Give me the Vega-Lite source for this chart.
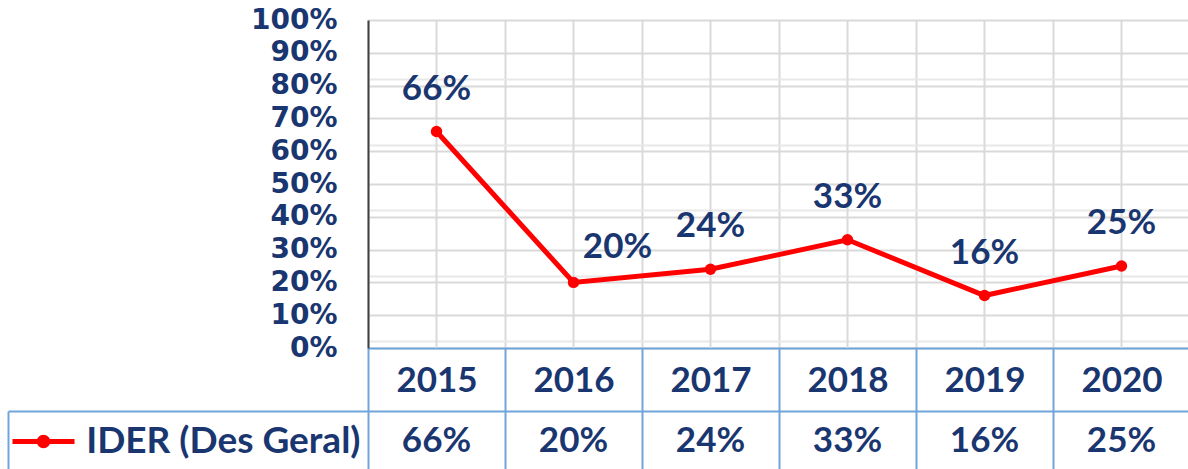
{
  "$schema": "https://vega.github.io/schema/vega-lite/v6.json",
  "background": "white",
  "padding": {"left": 7, "top": 6, "right": 0, "bottom": 0},
  "datasets": {
    "ider": [
      {"ano": "2015", "valor": 0.66, "serie": "IDER (Des Geral)"},
      {"ano": "2016", "valor": 0.20, "serie": "IDER (Des Geral)"},
      {"ano": "2017", "valor": 0.24, "serie": "IDER (Des Geral)"},
      {"ano": "2018", "valor": 0.33, "serie": "IDER (Des Geral)"},
      {"ano": "2019", "valor": 0.16, "serie": "IDER (Des Geral)"},
      {"ano": "2020", "valor": 0.25, "serie": "IDER (Des Geral)"}
    ]
  },
  "spacing": 63,
  "bounds": "flush",
  "resolve": {"legend": {"color": "independent"}},
  "config": {"view": {"stroke": null}},
  "vconcat": [
    {
      "width": 822,
      "height": 328,
      "data": {"name": "ider"},
      "resolve": {"scale": {"y": "independent"}, "axis": {"y": "independent"}},
      "encoding": {
        "x": {
          "field": "ano", "type": "ordinal",
          "scale": {"paddingInner": 0, "paddingOuter": 0},
          "axis": {
            "title": null, "orient": "bottom", "tickBand": "extent",
            "ticks": true, "tickSize": 63, "tickColor": "#70a5da", "tickWidth": 2,
            "domainColor": "#70a5da", "domainWidth": 2,
            "grid": true, "gridColor": "#dadada", "gridWidth": 2,
            "labelAngle": 0, "labelFont": "Lato", "labelFontWeight": "bold", "labelFontSize": 35,
            "labelColor": "#1A3670", "labelPadding": -31, "labelBaseline": "middle"
          }
        }
      },
      "layer": [
        {
          "layer": [
            {
              "mark": {"type": "rule", "color": "#dadada", "strokeWidth": 2},
              "encoding": {}
            },
            {
              "mark": {"type": "line", "strokeWidth": 5, "point": {"filled": true, "size": 130, "color": "#ff0000"}},
              "encoding": {
                "y": {
                  "field": "valor", "type": "quantitative",
                  "scale": {"domain": [0, 1], "nice": false},
                  "axis": {
                    "title": null, "orient": "left",
                    "values": [0,0.1,0.2,0.3,0.4,0.5,0.6,0.7,0.8,0.9,1],
                    "format": ".0%",
                    "grid": true, "gridColor": "#d9d9d9", "gridWidth": 2,
                    "ticks": false,
                    "domainColor": "#404040", "domainWidth": 2,
                    "labelFont": "DejaVu Sans", "labelFontWeight": "bold", "labelFontSize": 28,
                    "labelColor": "#1A3670", "labelPadding": 31,
                    "labelOverlap": false, "labelFlush": false, "labelBound": false
                  }
                },
                "color": {
                  "field": "serie", "type": "nominal",
                  "scale": {"range": ["#ff0000"]},
                  "legend": {
                    "orient": "none", "legendX": -358, "legendY": 388,
                    "title": null, "padding": 0,
                    "symbolType": "M-1,0H1M-0.14,0A0.14,0.14,0,1,1,0.14,0A0.14,0.14,0,1,1,-0.14,0",
                    "symbolSize": 3844, "symbolStrokeWidth": 5, "symbolFillColor": "#ff0000",
                    "labelExpr": "''", "labelOffset": 0
                  }
                }
              }
            }
          ]
        },
        {
          "layer": [
            {
              "transform": [{"filter": "datum.ano != '2016'"}],
              "mark": {"type": "text", "font": "Lato", "fontWeight": "bold", "fontSize": 35, "color": "#1A3670", "dy": -43, "baseline": "middle"},
              "encoding": {
                "y": {
                  "field": "valor", "type": "quantitative",
                  "scale": {"domain": [0, 1], "nice": false},
                  "axis": {
                    "title": null, "orient": "right",
                    "values": [0.02,0.04,0.06,0.08,0.12,0.14,0.16,0.18,0.22,0.24,0.26,0.28,0.32,0.34,0.36,0.38,0.42,0.44,0.46,0.48,0.52,0.54,0.56,0.58,0.62,0.64,0.66,0.68,0.72,0.74,0.76,0.78,0.82,0.84,0.86,0.88,0.92,0.94,0.96,0.98],
                    "labels": false, "ticks": false, "domain": false,
                    "grid": true, "gridColor": "#e8e8e8", "gridWidth": 2
                  }
                },
                "text": {"field": "valor", "type": "quantitative", "format": ".0%"}
              }
            },
            {
              "transform": [{"filter": "datum.ano == '2016'"}],
              "mark": {"type": "text", "font": "Lato", "fontWeight": "bold", "fontSize": 35, "color": "#1A3670", "dy": -35, "dx": 44, "baseline": "middle"},
              "encoding": {
                "y": {"field": "valor", "type": "quantitative"},
                "text": {"field": "valor", "type": "quantitative", "format": ".0%"}
              }
            }
          ]
        }
      ]
    },
    {
      "width": 822,
      "height": 60,
      "data": {"name": "ider"},
      "mark": {"type": "text", "font": "Lato", "fontWeight": "bold", "fontSize": 35, "color": "#1A3670", "baseline": "middle"},
      "encoding": {
        "x": {
          "field": "ano", "type": "ordinal",
          "scale": {"paddingInner": 0, "paddingOuter": 0},
          "axis": {
            "title": null, "orient": "top", "labels": false, "ticks": false,
            "tickBand": "extent",
            "domainColor": "#70a5da", "domainWidth": 2,
            "grid": true, "gridColor": "#70a5da", "gridWidth": 2
          }
        },
        "y": {
          "field": "serie", "type": "nominal",
          "scale": {"paddingInner": 0, "paddingOuter": 0},
          "axis": {
            "title": null, "orient": "left", "offset": 360,
            "domainColor": "#70a5da", "domainWidth": 2,
            "ticks": true, "tickSize": -360, "tickBand": "extent", "tickColor": "#70a5da", "tickWidth": 2,
            "labelFont": "Lato", "labelFontWeight": "bold", "labelFontSize": 37,
            "labelColor": "#1A3670", "labelPadding": 8, "labelLimit": 0
          }
        },
        "text": {"field": "valor", "type": "quantitative", "format": ".0%"}
      }
    }
  ]
}
